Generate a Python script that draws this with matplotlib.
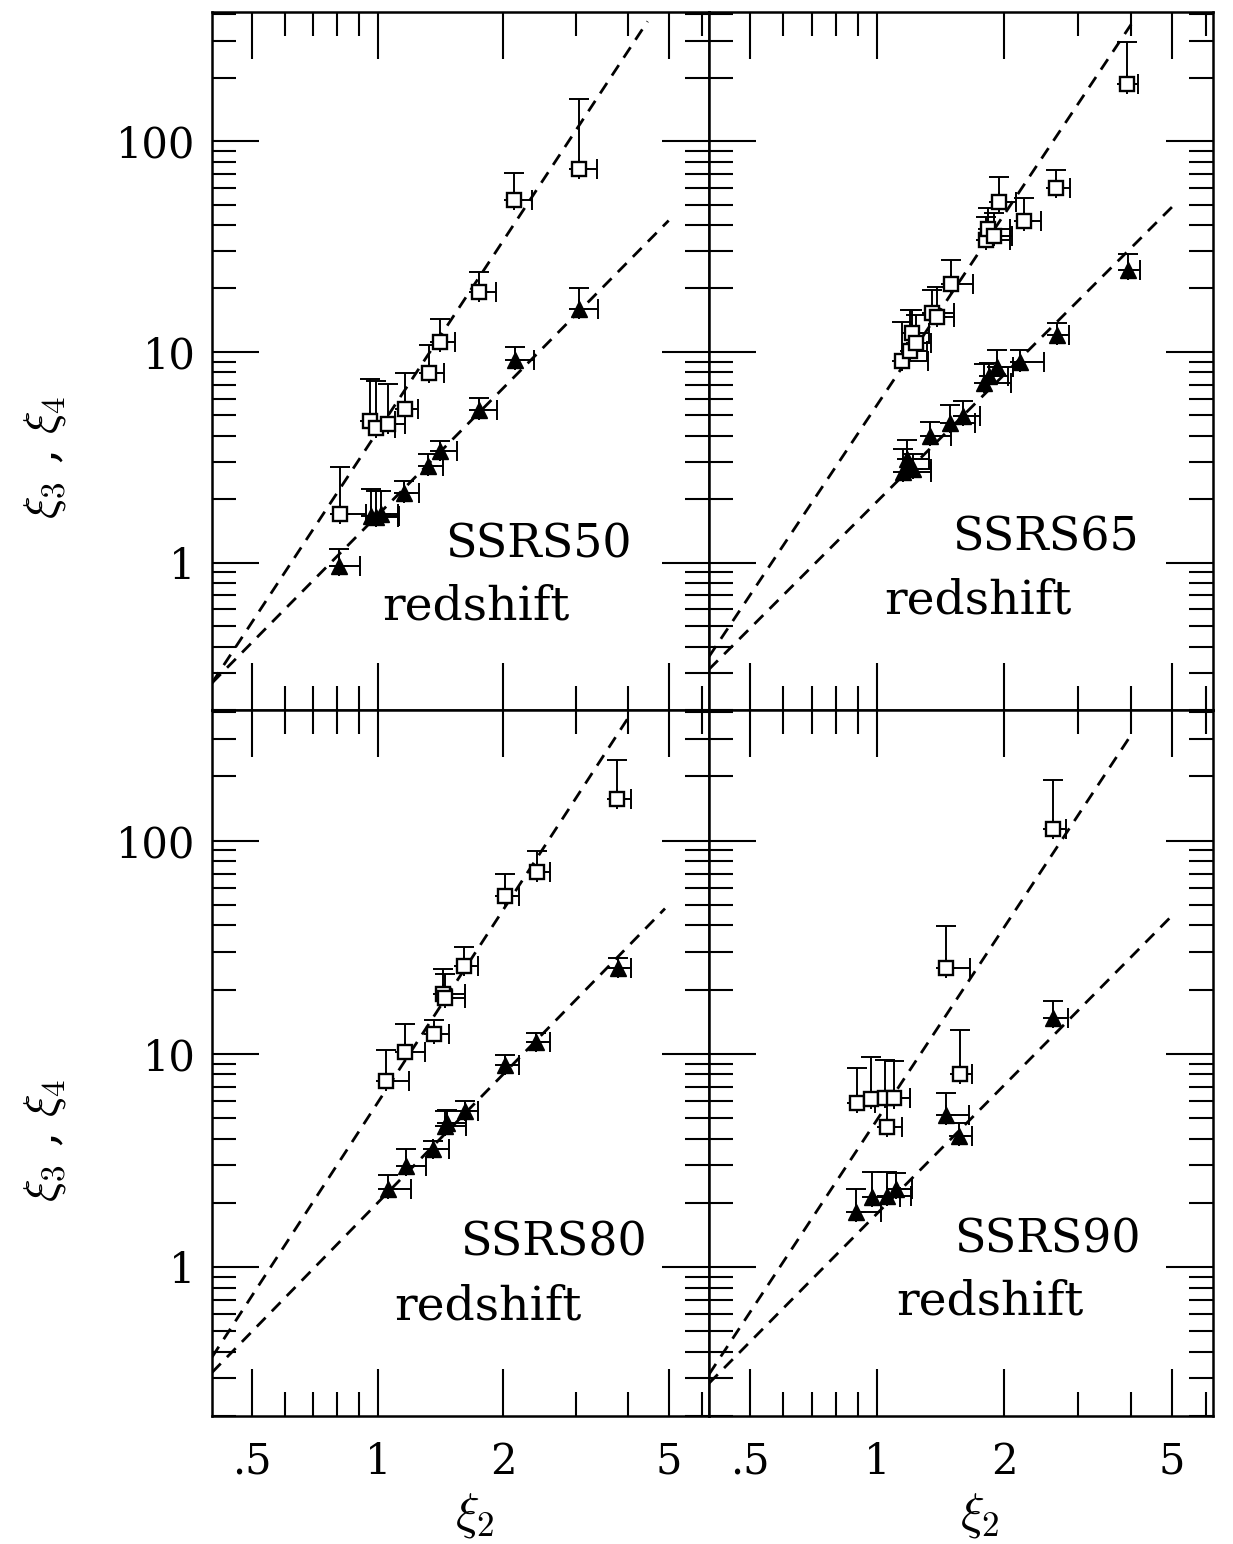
import numpy as np
import matplotlib
matplotlib.use("Agg")
import matplotlib.pyplot as plt
from matplotlib.ticker import FixedLocator, FixedFormatter, NullFormatter

plt.rcParams['font.family'] = ['DejaVu Serif']
plt.rcParams['mathtext.fontset'] = 'cm'

# ---------------- data ----------------
# SSRS50: squares = xi4, triangles = xi3 ; errors are one-sided (upper / right)
s50_x4 = [0.81, 0.96, 0.99, 1.06, 1.164, 1.33, 1.41, 1.75, 2.13, 3.05]
s50_y4 = [1.70, 4.70, 4.35, 4.54, 5.35, 7.98, 11.2, 19.3, 52.5, 73.6]
s50_y4e = [1.14, 2.74, 2.95, 2.5, 2.61, 2.82, 3.2, 4.6, 18.3, 84.4]
s50_x4e = [0.13, 0.14, 0.11, 0.10, 0.086, 0.11, 0.12, 0.17, 0.22, 0.31]
s50_x3 = [0.807, 0.965, 0.99, 1.02, 1.155, 1.318, 1.41, 1.75, 2.14, 3.05]
s50_y3 = [0.967, 1.66, 1.64, 1.70, 2.14, 2.87, 3.38, 5.31, 9.16, 16.0]
s50_y3e = [0.19, 0.58, 0.55, 0.5, 0.29, 0.40, 0.39, 0.72, 1.44, 4.2]
s50_x3e = [0.10, 0.16, 0.13, 0.10, 0.10, 0.12, 0.14, 0.19, 0.24, 0.33]

# SSRS65
s65_x4 = [1.143, 1.196, 1.21, 1.24, 1.35, 1.386, 1.494, 1.81, 1.83, 1.89, 1.95, 2.23, 2.66, 3.92]
s65_y4 = [9.04, 10.1, 12.3, 11.0, 15.3, 14.7, 21.1, 33.8, 38.4, 35.5, 51.2, 41.9, 60.0, 187.0]
s65_y4e = [4.8, 5.7, 3.5, 4.0, 4.4, 5.7, 6.1, 10.0, 10.0, 10.0, 16.3, 12.0, 13.2, 110.0]
s65_x4e = [0.18, 0.12, 0.12, 0.10, 0.17, 0.14, 0.19, 0.26, 0.24, 0.20, 0.19, 0.21, 0.20, 0.24]
s65_x3 = [1.153, 1.175, 1.22, 1.337, 1.49, 1.60, 1.79, 1.84, 1.92, 2.18, 2.67, 3.93]
s65_y3 = [2.70, 3.11, 2.79, 4.0, 4.62, 4.96, 7.12, 7.65, 8.49, 8.95, 12.0, 24.5]
s65_y3e = [0.77, 0.7, 0.5, 0.64, 0.98, 0.9, 1.6, 1.2, 1.7, 1.25, 1.7, 4.5]
s65_x3e = [0.19, 0.15, 0.12, 0.16, 0.22, 0.15, 0.29, 0.20, 0.18, 0.30, 0.18, 0.26]

# SSRS80
s80_x4 = [1.049, 1.165, 1.366, 1.435, 1.45, 1.615, 2.02, 2.42, 3.76]
s80_y4 = [7.42, 10.25, 12.4, 19.0, 18.3, 25.7, 55.1, 71.5, 157.0]
s80_y4e = [2.98, 3.55, 2.0, 6.1, 5.5, 6.0, 14.5, 17.8, 81.0]
s80_x4e = [0.14, 0.135, 0.114, 0.185, 0.17, 0.13, 0.17, 0.18, 0.29]
s80_x3 = [1.058, 1.168, 1.36, 1.45, 1.47, 1.625, 2.02, 2.40, 3.77]
s80_y3 = [2.33, 2.98, 3.57, 4.58, 4.75, 5.42, 8.87, 11.4, 25.3]
s80_y3e = [0.36, 0.60, 0.33, 0.81, 0.7, 0.57, 1.01, 1.1, 2.9]
s80_x3e = [0.147, 0.142, 0.12, 0.18, 0.16, 0.115, 0.17, 0.19, 0.29]

# SSRS90
s90_x4 = [0.896, 0.969, 1.045, 1.10, 1.057, 1.46, 1.57, 2.61]
s90_y4 = [5.86, 6.13, 6.23, 6.18, 4.54, 25.4, 8.02, 113.0]
s90_y4e = [2.71, 3.57, 3.1, 3.1, 1.2, 14.3, 4.9, 80.0]
s90_x4e = [0.094, 0.13, 0.15, 0.095, 0.092, 0.197, 0.11, 0.20]
s90_x3 = [0.891, 0.972, 1.056, 1.11, 1.46, 1.568, 2.61]
s90_y3 = [1.82, 2.13, 2.16, 2.33, 5.17, 4.12, 14.7]
s90_y3e = [0.50, 0.67, 0.64, 0.42, 1.41, 0.6, 2.9]
s90_x3e = [0.13, 0.16, 0.15, 0.10, 0.19, 0.11, 0.22]

# hierarchical fits: xi3 = S3 xi2^2 , xi4 = S4 xi2^3
fit_S3 = [1.68, 1.95, 2.0, 1.78]
fit_S4 = [4.2, 5.6, 5.9, 4.9]
fit_x_start = 0.4
fit_x_end3 = [5.0, 5.05, 4.9, 5.0]
fit_x_end4 = [4.45, 4.0, 4.0, 4.0]

names = ["SSRS50", "SSRS65", "SSRS80", "SSRS90"]

xticks_major = [0.5, 1, 2, 5]
xtick_labels = [".5", "1", "2", "5"]
xticks_minor = [0.6, 0.7, 0.8, 0.9, 3, 4, 6]
yticks_major = [1, 10, 100]
ytick_labels = ["1", "10", "100"]
yticks_minor = [0.2, 0.3, 0.4, 0.5, 0.6, 0.7, 0.8, 0.9,
                2, 3, 4, 5, 6, 7, 8, 9,
                20, 30, 40, 50, 60, 70, 80, 90, 200, 300, 400]

panels = [
    (s50_x4, s50_y4, s50_x4e, s50_y4e, s50_x3, s50_y3, s50_x3e, s50_y3e),
    (s65_x4, s65_y4, s65_x4e, s65_y4e, s65_x3, s65_y3, s65_x3e, s65_y3e),
    (s80_x4, s80_y4, s80_x4e, s80_y4e, s80_x3, s80_y3, s80_x3e, s80_y3e),
    (s90_x4, s90_y4, s90_x4e, s90_y4e, s90_x3, s90_y3, s90_x3e, s90_y3e),
]

# ---------------- layout ----------------
W, H = 1233, 1544
fig = plt.figure(figsize=(W / 100, H / 100), dpi=100)


def px_axes(x0, x1, y0, y1):
    return fig.add_axes([x0 / W, 1 - y1 / H, (x1 - x0) / W, (y1 - y0) / H])


XL, XM, XR = 212, 709, 1213
YT, YM, YB = 12, 710, 1416
boxes = [(XL, XM, YT, YM), (XM, XR, YT, YM),
         (XL, XM, YM, YB), (XM, XR, YM, YB)]

text_pos = [((0.656, 0.237), (0.531, 0.148)),
            ((0.667, 0.247), (0.534, 0.156)),
            ((0.686, 0.245), (0.555, 0.154)),
            ((0.671, 0.249), (0.558, 0.161))]

for i, (box, data) in enumerate(zip(boxes, panels)):
    ax = px_axes(*box)
    ax.set_xscale('log')
    ax.set_yscale('log')
    ax.set_xlim(0.4, 6.25)
    ax.set_ylim(0.2, 410)
    for sp in ax.spines.values():
        sp.set_linewidth(1.8)

    x4, y4, x4e, y4e, x3, y3, x3e, y3e = [np.asarray(a, float) for a in data]

    # fit lines
    xx3 = np.geomspace(fit_x_start, fit_x_end3[i], 60)
    xx4 = np.geomspace(fit_x_start, fit_x_end4[i], 60)
    ax.plot(xx4, fit_S4[i] * xx4 ** 3, color='black', lw=2.0,
            ls=(0, (4.5, 3.2)), zorder=2)
    ax.plot(xx3, fit_S3[i] * xx3 ** 2, color='black', lw=2.0,
            ls=(0, (4.5, 3.2)), zorder=2)

    # error bars (one-sided)
    ax.errorbar(x4, y4, xerr=[np.zeros_like(x4e), x4e],
                yerr=[np.zeros_like(y4e), y4e], fmt='none', ecolor='black',
                elinewidth=1.4, capsize=7, capthick=1.4, zorder=3)
    ax.errorbar(x3, y3, xerr=[np.zeros_like(x3e), x3e],
                yerr=[np.zeros_like(y3e), y3e], fmt='none', ecolor='black',
                elinewidth=1.4, capsize=7, capthick=1.4, zorder=3)
    ax.plot(x4, y4, ls='none', marker='s', ms=10, mfc='white', mec='black',
            mew=1.7, zorder=4)
    ax.plot(x3, y3, ls='none', marker='^', ms=12, mfc='black', mec='black',
            zorder=4)

    # ticks
    ax.xaxis.set_major_locator(FixedLocator(xticks_major))
    ax.xaxis.set_minor_locator(FixedLocator(xticks_minor))
    ax.yaxis.set_major_locator(FixedLocator(yticks_major))
    ax.yaxis.set_minor_locator(FixedLocator(yticks_minor))
    ax.xaxis.set_minor_formatter(NullFormatter())
    ax.yaxis.set_minor_formatter(NullFormatter())
    ax.xaxis.set_major_formatter(FixedFormatter(xtick_labels))
    ax.yaxis.set_major_formatter(FixedFormatter(ytick_labels))
    ax.tick_params(which='both', direction='in', top=True, right=True,
                   bottom=True, left=True, width=1.5, labelsize=30)
    ax.tick_params(which='major', length=34)
    ax.tick_params(which='minor', length=17)
    ax.tick_params(axis='x', pad=18)
    ax.tick_params(axis='y', pad=12)
    ax.tick_params(labelbottom=(i >= 2), labelleft=(i % 2 == 0))

    (tx1, ty1), (tx2, ty2) = text_pos[i]
    ax.text(tx1, ty1, names[i], transform=ax.transAxes, fontsize=33,
            ha='center', va='center')
    ax.text(tx2, ty2, "redshift", transform=ax.transAxes, fontsize=34,
            ha='center', va='center')

# axis labels
fig.text(475 / W, 1 - 1515 / H, r'$\xi_2$', fontsize=36, ha='center', va='center')
fig.text(980 / W, 1 - 1515 / H, r'$\xi_2$', fontsize=36, ha='center', va='center')
fig.text(45 / W, 1 - 457 / H, r'$\xi_3$ , $\xi_4$', fontsize=34, rotation=90,
         ha='center', va='center')
fig.text(45 / W, 1 - 1140 / H, r'$\xi_3$ , $\xi_4$', fontsize=34, rotation=90,
         ha='center', va='center')

fig.savefig("out.png", dpi=100, facecolor='white')
